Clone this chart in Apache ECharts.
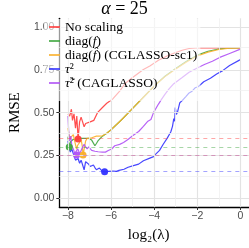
<!DOCTYPE html>
<html><head><meta charset="utf-8">
<script src="https://cdn.jsdelivr.net/npm/echarts@6/dist/echarts.min.js"></script>
<style>html,body{margin:0;padding:0;background:#fff}#c{width:249px;height:248px}</style>
</head><body><div id="c"></div>
<script>
// ---- data ----
const seriesNames = ['No scaling', 'diag(f)', 'diag(f̂) (CGLASSO-sc1)', 'τ²', 'τ̃² (CAGLASSO)'];
const xTicks = [-8, -6, -4, -2, 0];
const yTicks = [0, 0.25, 0.5, 0.75, 1];

const xNoScaling = [-8.0,-7.92,-7.84,-7.79,-7.72,-7.65,-7.59,-7.53,-7.46,-7.39,-7.32,-7.25,-7.18,-7.1,-6.97,-6.8,-6.63,-6.4,-6.2,-5.92,-5.6,-5.35,-5.0,-4.5,-4.2,-3.8,-3.4,-3.09,-2.7,-2.38,-2.1,-1.96,-1.5,-1.0,-0.5,0];
const yNoScaling = [0.493,0.48,0.52,0.455,0.493,0.41,0.48,0.346,0.446,0.474,0.465,0.418,0.437,0.445,0.446,0.455,0.50,0.53,0.555,0.58,0.625,0.67,0.705,0.752,0.772,0.805,0.83,0.846,0.864,0.874,0.877,0.878,0.878,0.878,0.878,0.878];

const xDiagF = [-8.0,-7.94,-7.88,-7.82,-7.75,-7.67,-7.6,-7.53,-7.46,-7.39,-7.32,-7.25,-7.18,-7.11,-7.04,-6.97,-6.9,-6.82,-6.75,-6.68,-6.61,-6.5,-6.4,-6.2,-6.0,-5.5,-5.0,-4.5,-4.0,-3.5,-3.0,-2.5,-2.0,-1.5,-1.0,-0.5,0];
const yDiagF = [0.36,0.30,0.33,0.335,0.345,0.344,0.34,0.344,0.35,0.353,0.35,0.353,0.35,0.353,0.35,0.344,0.34,0.335,0.307,0.32,0.335,0.35,0.363,0.38,0.40,0.46,0.525,0.59,0.655,0.712,0.758,0.8,0.835,0.858,0.871,0.877,0.879];

const xDiagFhat = [-8.0,-7.95,-7.89,-7.82,-7.75,-7.68,-7.6,-7.55,-7.5,-7.44,-7.39,-7.33,-7.3,-7.23,-7.18,-7.11,-7.04,-6.9,-6.8,-6.68,-6.55,-6.4,-6.2,-6.0,-5.5,-5.0,-4.5,-4.0,-3.5,-3.0,-2.5,-2.0,-1.5,-1.0,-0.5,0];
const yDiagFhat = [0.41,0.37,0.353,0.36,0.372,0.33,0.288,0.31,0.316,0.33,0.344,0.30,0.253,0.30,0.335,0.35,0.353,0.353,0.358,0.363,0.363,0.365,0.38,0.40,0.46,0.525,0.59,0.655,0.71,0.755,0.795,0.83,0.853,0.868,0.876,0.878];

const xTau2 = [-8.0,-7.96,-7.89,-7.82,-7.75,-7.65,-7.53,-7.46,-7.39,-7.32,-7.25,-7.18,-7.11,-7.04,-6.97,-6.82,-6.75,-6.68,-6.54,-6.4,-6.3,-6.13,-5.92,-5.75,-5.63,-5.4,-5.21,-5.0,-4.72,-4.5,-4.2,-4.0,-3.94,-3.75,-3.58,-3.4,-3.23,-3.15,-3.09,-3.05,-3.02,-2.97,-2.92,-2.81,-2.7,-2.52,-2.38,-2.24,-2.1,-1.96,-1.7,-1.39,-1.1,-0.82,-0.5,0];
const yTau2 = [0.335,0.298,0.27,0.288,0.26,0.223,0.233,0.205,0.223,0.214,0.167,0.214,0.205,0.2,0.186,0.195,0.18,0.167,0.177,0.158,0.156,0.158,0.16,0.158,0.164,0.17,0.182,0.19,0.2,0.22,0.235,0.245,0.257,0.28,0.316,0.35,0.387,0.42,0.465,0.45,0.53,0.49,0.502,0.558,0.57,0.595,0.615,0.625,0.645,0.651,0.68,0.70,0.725,0.745,0.775,0.809];

const xTauTilde = [-8.0,-7.97,-7.93,-7.87,-7.82,-7.75,-7.68,-7.6,-7.55,-7.5,-7.45,-7.36,-7.25,-7.18,-7.11,-7.04,-6.97,-6.9,-6.82,-6.75,-6.68,-6.6,-6.54,-6.4,-6.26,-6.13,-5.97,-5.83,-5.6,-5.42,-5.2,-5.0,-4.72,-4.5,-4.29,-4.15,-4.08,-4.03,-4.0,-3.8,-3.66,-3.51,-3.3,-3.09,-2.7,-2.38,-2.0,-1.67,-1.3,-0.96,-0.5,0];
const yTauTilde = [0.48,0.40,0.335,0.363,0.307,0.288,0.26,0.253,0.29,0.279,0.26,0.288,0.316,0.30,0.288,0.30,0.298,0.28,0.27,0.275,0.279,0.272,0.27,0.27,0.27,0.279,0.288,0.307,0.315,0.326,0.345,0.365,0.39,0.42,0.45,0.46,0.465,0.50,0.511,0.55,0.577,0.605,0.64,0.669,0.705,0.735,0.76,0.781,0.80,0.822,0.845,0.87];

const minX = [-7.53, -7.94, -7.3, -6.3, -7.6];
const minY = [0.346, 0.30, 0.253, 0.156, 0.253];

const xMinorGrid = [-7, -5, -3, -1];
const yMinorGrid = [0.125, 0.375, 0.625, 0.875];

// ---- styling ----
const lineColors = ['rgb(255,60,60)', 'rgb(60,165,60)', 'rgb(250,175,40)', 'rgb(50,50,255)', 'rgb(175,80,245)'];
const serif = 'Liberation Serif';
const sans = 'Liberation Sans';

const zip = (xs, ys) => xs.map((x, i) => [x, ys[i]]);
const lineData = [zip(xNoScaling, yNoScaling), zip(xDiagF, yDiagF), zip(xDiagFhat, yDiagFhat), zip(xTau2, yTau2), zip(xTauTilde, yTauTilde)];

const series = [];
series.push({
  type: 'line', name: '_grid', data: [], z: 0, silent: true,
  markLine: {
    silent: true, symbol: 'none', label: {show: false}, animation: false,
    data: [
      ...xTicks.map(v => ({xAxis: v, lineStyle: {color: '#e3e3e3', width: 1.2, type: 'solid'}})),
      ...yTicks.map(v => ({yAxis: v, lineStyle: {color: '#e3e3e3', width: 1.2, type: 'solid'}})),
      ...xMinorGrid.map(v => ({xAxis: v, lineStyle: {color: '#f0f0f0', width: 0.8, type: 'solid'}})),
      ...yMinorGrid.map(v => ({yAxis: v, lineStyle: {color: '#f0f0f0', width: 0.8, type: 'solid'}}))
    ]
  }
});
seriesNames.forEach((n, i) => {
  series.push({
    type: 'line', name: '_ref' + i, data: [], z: 1, silent: true,
    markLine: {
      silent: true, symbol: 'none', label: {show: false}, animation: false,
      lineStyle: {color: lineColors[i], opacity: 0.45, width: 1, type: [4, 4]},
      data: [{yAxis: minY[i]}]
    }
  });
});
seriesNames.forEach((n, i) => {
  series.push({
    type: 'line', name: n, data: lineData[i], showSymbol: false, symbol: 'none', z: 2,
    color: lineColors[i],
    lineStyle: {width: 1.2, opacity: 0.9, color: lineColors[i]},
    animation: false
  });
});
seriesNames.forEach((n, i) => {
  series.push({
    type: 'scatter', name: '_min' + i, data: [[minX[i], minY[i]]], symbolSize: 7, z: 3,
    itemStyle: {color: lineColors[i], opacity: 0.95}, animation: false
  });
});

const legendFmt = {
  'No scaling': 'No scaling',
  'diag(f)': 'diag({i|f})',
  'diag(f̂) (CGLASSO-sc1)': 'diag({i|f̂}) (CGLASSO-sc1)',
  'τ²': '{i|τ}²',
  'τ̃² (CAGLASSO)': '{i|τ̃}² (CAGLASSO)'
};

const chart = echarts.init(document.getElementById('c'), null, {renderer: 'canvas'});
chart.setOption({
  animation: false,
  backgroundColor: '#fff',
  title: {
    text: '{i|α} = 25', left: 'center', top: 0, padding: [0, 0, 0, 9],
    textStyle: {fontFamily: serif, fontSize: 18, fontWeight: 'normal', color: '#000',
      rich: {i: {fontFamily: serif, fontSize: 18, fontStyle: 'italic', color: '#000'}}}
  },
  grid: {left: 42, right: 0, top: 18.3, bottom: 32.3, containLabel: false},
  xAxis: {
    type: 'value', min: -8.4, max: 0.4,
    name: 'log₂(λ)', nameLocation: 'middle', nameGap: 21,
    nameTextStyle: {fontFamily: serif, fontSize: 15, color: '#000', padding: [0, 11, 0, 0]},
    axisLine: {show: true, onZero: false, lineStyle: {color: '#000', width: 1.3}},
    axisTick: {show: true, customValues: xTicks, length: 3, lineStyle: {color: '#333'}},
    axisLabel: {customValues: xTicks, fontFamily: sans, fontSize: 10.5, color: '#4d4d4d', margin: 4,
      formatter: v => (v < 0 ? '\u2212' + Math.abs(v) : String(v))},
    splitLine: {show: false}
  },
  yAxis: {
    type: 'value', min: -0.05, max: 1.05,
    name: 'RMSE', nameLocation: 'middle', nameGap: 28, nameRotate: 90,
    nameTextStyle: {fontFamily: serif, fontSize: 15, color: '#000'},
    axisLine: {show: true, onZero: false, lineStyle: {color: '#000', width: 1.3}},
    axisTick: {show: true, customValues: yTicks, length: 3, lineStyle: {color: '#333'}},
    axisLabel: {customValues: yTicks, fontFamily: sans, fontSize: 10.5, color: '#4d4d4d', margin: 5,
      formatter: v => v.toFixed(2)},
    splitLine: {show: false}
  },
  legend: {
    data: seriesNames.map(n => ({name: n, icon: 'rect'})), orient: 'vertical', left: 44, top: 19,
    itemWidth: 11, itemHeight: 1.6, itemGap: 0, padding: [1, 3, 11, 5],
    backgroundColor: 'rgba(255,255,255,0.6)', selectedMode: false, z: 10,
    formatter: n => legendFmt[n],
    textStyle: {fontFamily: serif, fontSize: 13.5, lineHeight: 13.2, color: '#000',
      rich: {i: {fontFamily: serif, fontSize: 13.5, lineHeight: 13.2, fontStyle: 'italic', color: '#000'}}}
  },
  series: series
});
</script></body></html>
